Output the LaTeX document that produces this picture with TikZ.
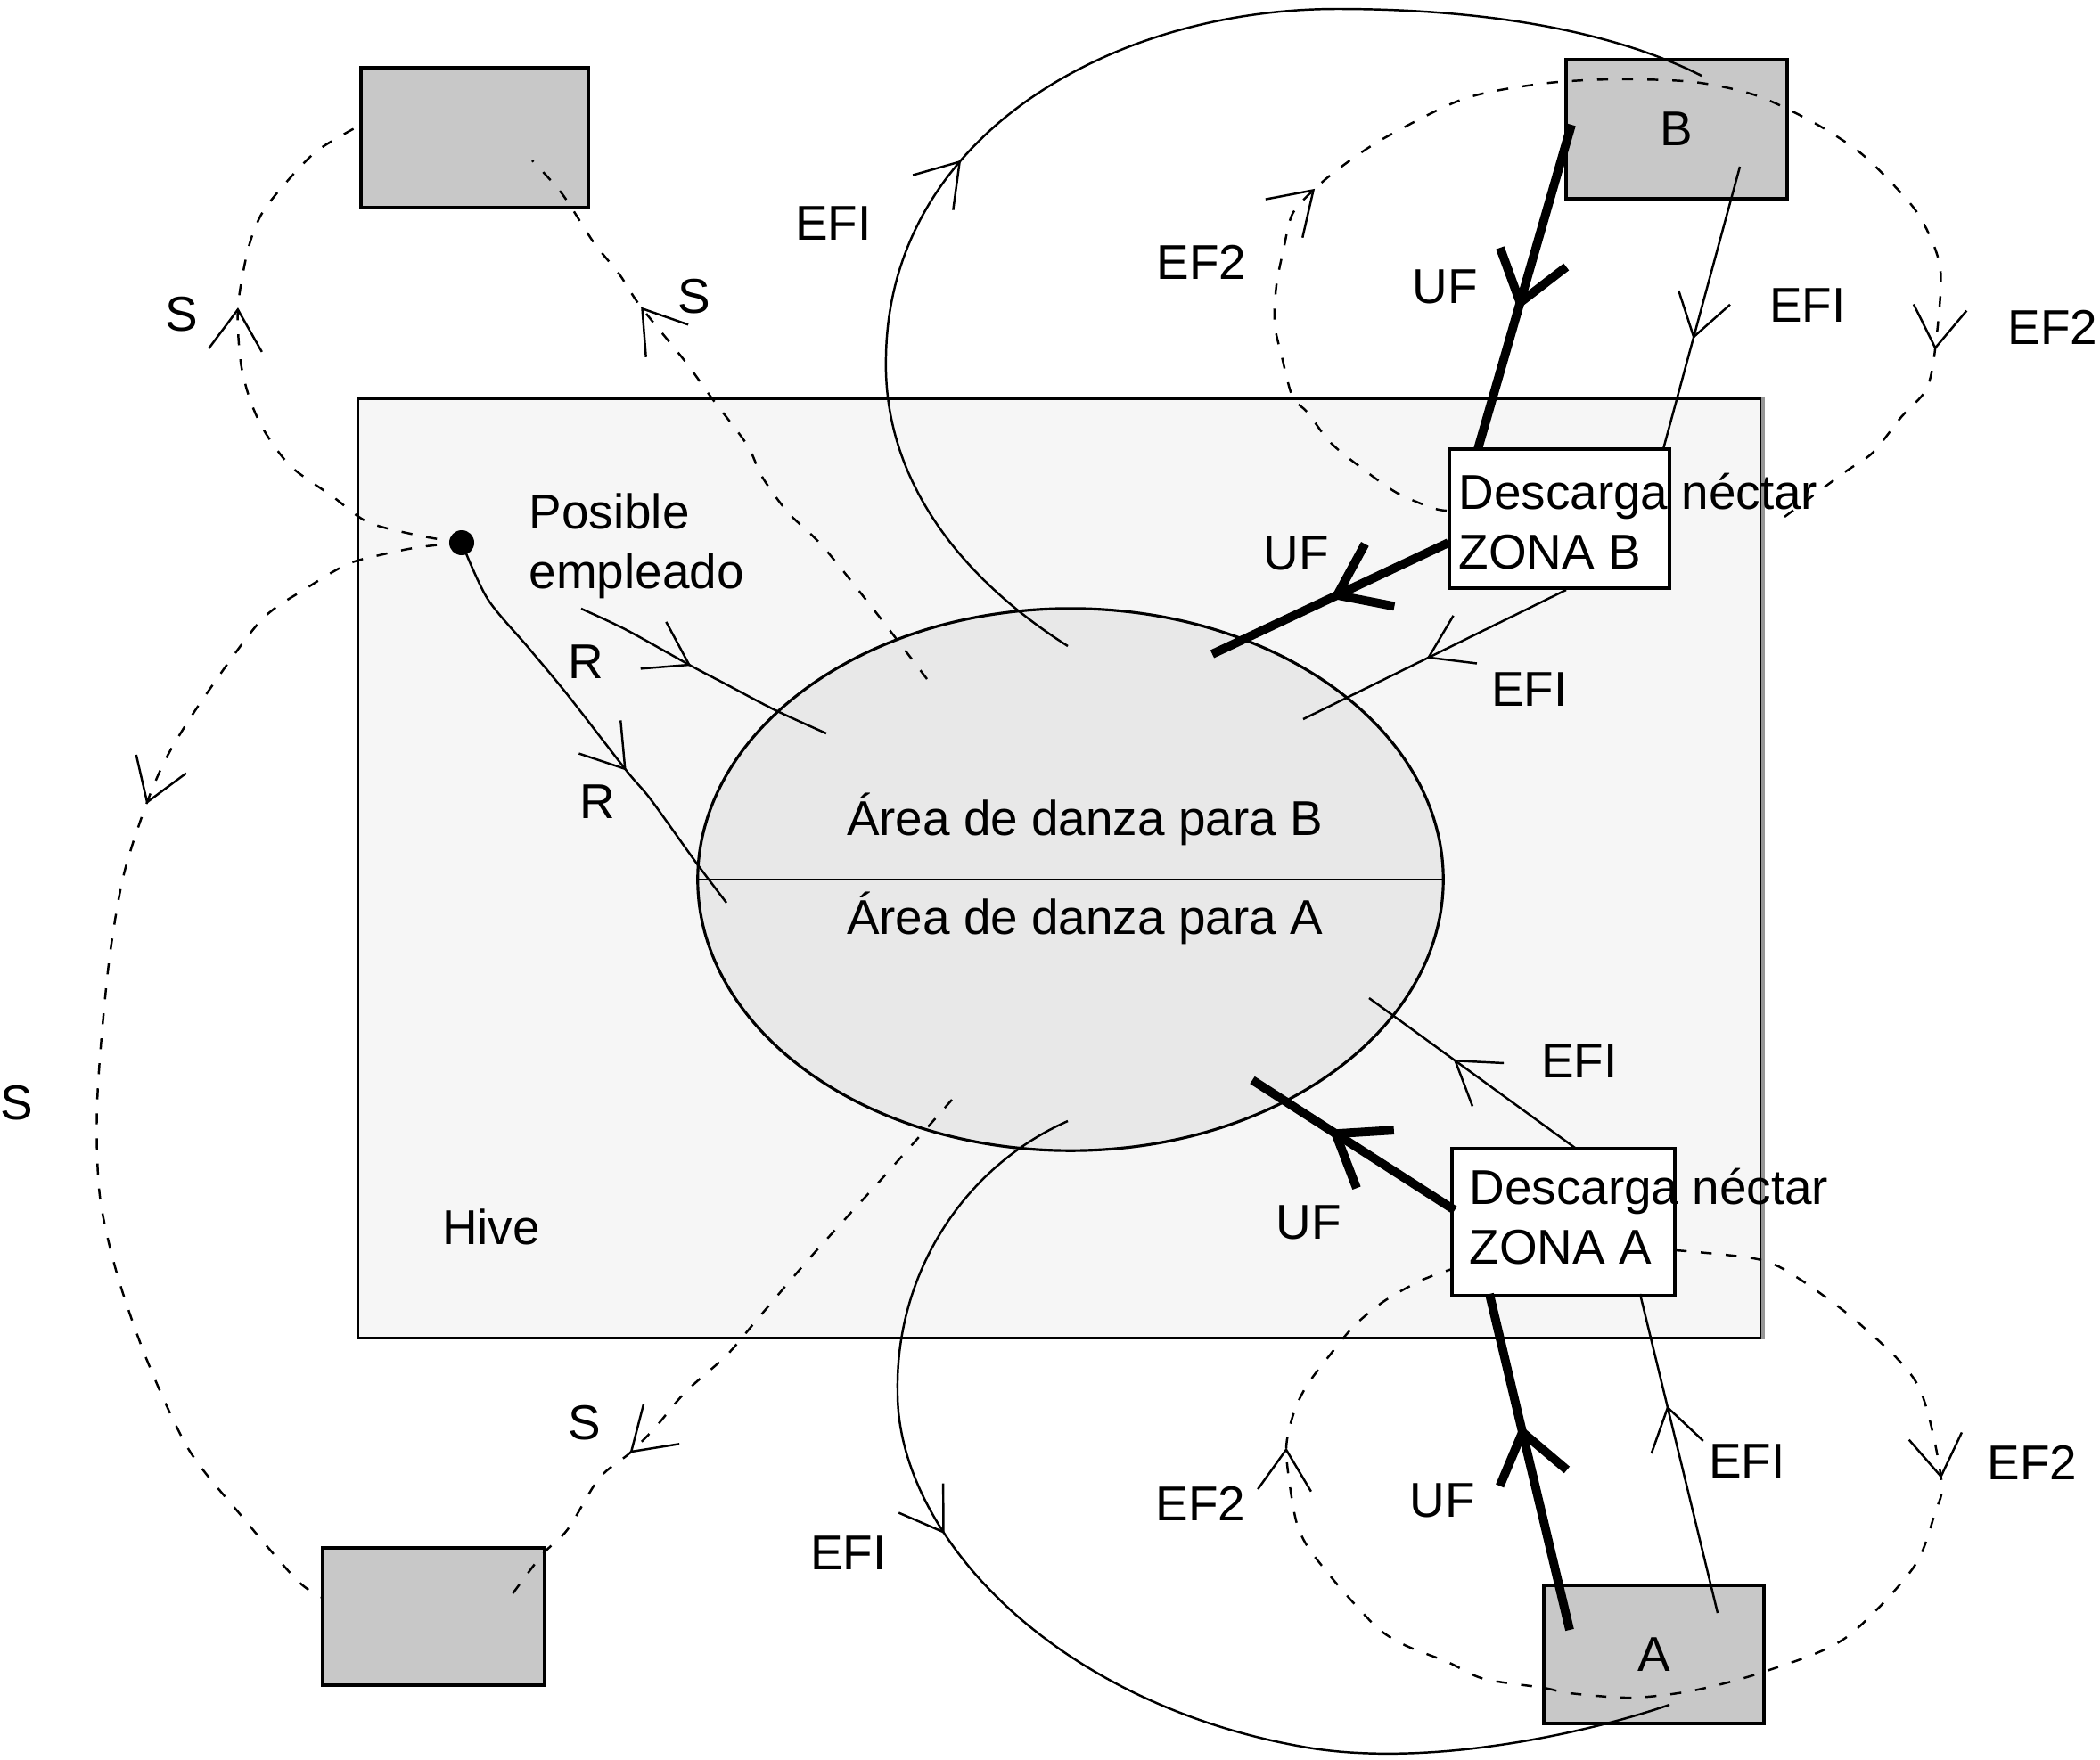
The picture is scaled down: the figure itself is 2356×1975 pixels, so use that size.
\documentclass[tikz,border=0pt]{standalone}
\usepackage{fontspec}
\setmainfont{Liberation Sans}
\usetikzlibrary{arrows.meta, decorations.markings, shapes.geometric}
\definecolor{HiveFill}{RGB}{246, 246, 246}
\definecolor{DanceFill}{RGB}{232, 232, 232}
\definecolor{SiteFill}{RGB}{200, 200, 200}
\definecolor{EdgeGray}{RGB}{150, 150, 150}

\begin{document}
\begin{tikzpicture}[
  x=0.01cm, y=-0.01cm,
  every node/.style={font=\fontsize{15.6}{19}\selectfont},
  site/.style={draw, line width=1.3pt, fill=SiteFill, inner sep=0pt},
  zone/.style={draw, line width=1.1pt, fill=white, inner sep=0pt},
  note/.style={inner sep=0pt, align=left, anchor=base west},
  flight/.style={line width=0.7pt},
  dashflight/.style={line width=0.7pt, dash pattern=on 3.5pt off 4.5pt},
  unload/.style={line width=2.8pt},
  midarrow/.style={postaction={decorate, decoration={markings,
      mark=at position #1 with {\arrow{Straight Barb[length=13pt, width=17pt]}}}}},
  bigarrow/.style={postaction={decorate, decoration={markings,
      mark=at position #1 with {\arrow{Straight Barb[length=15pt, width=22pt]}}}}}
]
  \useasboundingbox (0,0) rectangle (2356,1975);

  %% Hive and dance floor
  \node[draw, line width=0.9pt, fill=HiveFill, minimum width=15.74cm, minimum height=10.53cm,
        inner sep=0pt] (hive) at (1189,974.5) {};
  \draw[EdgeGray, line width=1pt] (hive.north east) -- (hive.south east);
  \node[ellipse, draw, line width=0.9pt, fill=DanceFill, minimum width=8.36cm,
        minimum height=6.08cm, inner sep=0pt] (dance) at (1201,987) {};
  \draw[line width=0.8pt] (dance.west) -- (dance.east);
  \node[anchor=base] (areaB) at (1217,937)  {Área de danza para B};
  \node[anchor=base] (areaA) at (1217,1048) {Área de danza para A};
  \node (hivelabel) at (551,1377) {Hive};
  \node[note] (recruitlabel) at (593,660) {Posible\\empleado};
  \node[circle, fill, inner sep=0pt, minimum size=0.28cm] (recruit) at (518,609) {};

  %% Food sites and unloading zones
  \node[site, minimum width=2.55cm, minimum height=1.57cm] (siteNW) at (532.5,154.5) {};
  \node[site, minimum width=2.49cm, minimum height=1.54cm] (siteSW) at (486.5,1814) {};
  \node[site, minimum width=2.48cm, minimum height=1.56cm] (siteB)  at (1881,145) {B};
  \node[site, minimum width=2.47cm, minimum height=1.55cm] (siteA)  at (1855.5,1856.5) {A};
  \node[zone, minimum width=2.47cm, minimum height=1.56cm] (zoneB) at (1749.5,582) {};
  \node[zone, minimum width=2.50cm, minimum height=1.65cm] (zoneA) at (1754,1371.5) {};
  \node[note] (zoneBtext) at (1636,638)  {Descarga néctar\\ZONA B};
  \node[note] (zoneAtext) at (1648,1418) {Descarga néctar\\ZONA A};

  %% Free ends of the flights
  \coordinate (nwIn)      at (405,140);
  \coordinate (nwOut)     at (597,180);
  \coordinate (swIn)      at (362,1793);
  \coordinate (swOut)     at (568,1798);
  \coordinate (scoutUp)   at (1040,762);
  \coordinate (scoutDown) at (1068,1234);
  \coordinate (recA)      at (815,1013);
  \coordinate (recBstart) at (652,683);
  \coordinate (recBend)   at (927,823);
  \coordinate (ufBout)    at (1763,140);
  \coordinate (ufBin)     at (1658,504);
  \coordinate (efiBout)   at (1952,187);
  \coordinate (efiBin)    at (1866,504);
  \coordinate (ufBdrop)   at (1625,609);
  \coordinate (ufBdance)  at (1360,734);
  \coordinate (efiBdrop)  at (1757,662);
  \coordinate (efiBdance) at (1462,807);
  \coordinate (efiBfrom)  at (1198,725);
  \coordinate (efiBsite)  at (1909,85);
  \coordinate (efBleft)   at (1623,573);
  \coordinate (efBright)  at (1994,586);
  \coordinate (ufAout)    at (1761,1829);
  \coordinate (ufAin)     at (1671,1452);
  \coordinate (efiAout)   at (1927,1810);
  \coordinate (efiAin)    at (1840,1452);
  \coordinate (ufAdrop)   at (1632,1358);
  \coordinate (ufAdance)  at (1405,1212);
  \coordinate (efiAdrop)  at (1767,1288);
  \coordinate (efiAdance) at (1536,1120);
  \coordinate (efiAfrom)  at (1198,1258);
  \coordinate (efiAsite)  at (1873,1913);
  \coordinate (efAright)  at (1880,1403);
  \coordinate (efAleft)   at (1629,1424);

  %% Scouts (S) and recruits (R)
  \draw[dashflight, midarrow=0.61] plot[smooth] coordinates {(recruit) (470,601) (413,586)
    (373,557) (327,524) (298,486) (281,450) (270,406) (267,345) (278,281) (293,241) (319,207)
    (356,169) (nwIn)};
  \draw[dashflight, midarrow=0.335] plot[smooth] coordinates {(recruit) (470,614) (430,622)
    (390,633) (344,660) (293,696) (230,781) (189,846) (164,903) (138,985) (121,1090)
    (109,1237) (112,1342) (132,1432) (166,1529) (212,1627) (270,1700) (333,1773) (swIn)};
  \draw[dashflight, midarrow=0.72] plot[smooth] coordinates {(scoutUp) (981,685) (923,613)
    (884,575) (855,535) (838,499) (798,446) (769,406) (718,343) (695,308) (666,272)
    (631,218) (nwOut)};
  \draw[dashflight, midarrow=0.71] plot[smooth] coordinates {(scoutDown) (990,1322)
    (910,1410) (850,1480) (815,1521) (769,1562) (735,1602) (706,1631) (672,1659)
    (637,1716) (608,1745) (swOut)};
  \draw[flight, midarrow=0.63] plot[smooth] coordinates {(recruit) (547,672) (593,727)
    (637,780) (703,865) (730,897) (781,968) (recA)};
  \draw[flight, midarrow=0.45] plot[smooth] coordinates {(recBstart) (703,707) (775,747)
    (813,767) (870,797) (recBend)};

  %% Site B
  \draw[flight, midarrow=0.42] (efiBfrom) .. controls (1080,650) and (990,540) .. (994,400)
    .. controls (998,150) and (1250,10) .. (1500,10)
    .. controls (1700,10) and (1830,45) .. (efiBsite);
  \draw[flight, midarrow=0.61] (efiBout) -- (efiBin);
  \draw[flight, midarrow=0.53] (efiBdrop) -- (efiBdance);
  \draw[unload, bigarrow=0.57] (ufBout) -- (ufBin);
  \draw[unload, bigarrow=0.50] (ufBdrop) -- (ufBdance);
  \draw[dashflight, midarrow=0.283, midarrow=0.836] plot[smooth] coordinates {(efBleft)
    (1607,570) (1567,553) (1530,527) (1493,497) (1467,463) (1450,445) (1438,400) (1430,363)
    (1432,320) (1440,280) (1450,240) (1475,212) (1505,187) (1553,155) (1642,111) (1729,94)
    (1811,89) (1900,92) (1970,107) (2032,136) (2084,169) (2122,205) (2155,245) (2177,303)
    (2171,392) (2161,437) (2133,468) (2101,508) (2068,531) (efBright)};

  %% Site A
  \draw[flight, midarrow=0.38] (efiAfrom) .. controls (1080,1310) and (1005,1430) .. (1007,1560)
    .. controls (1005,1720) and (1180,1910) .. (1461,1960)
    .. controls (1600,1985) and (1780,1945) .. (efiAsite);
  \draw[flight, midarrow=0.65] (efiAout) -- (efiAin);
  \draw[flight, midarrow=0.59] (efiAdrop) -- (efiAdance);
  \draw[unload, bigarrow=0.61] (ufAout) -- (ufAin);
  \draw[unload, bigarrow=0.62] (ufAdrop) -- (ufAdance);
  \draw[dashflight, midarrow=0.251, midarrow=0.833] plot[smooth] coordinates {(efAright)
    (1972,1413) (2017,1434) (2088,1487) (2152,1555) (2178,1660) (2171,1697) (2146,1760)
    (2069,1839) (1979,1876) (1900,1897) (1831,1905) (1761,1900) (1732,1894) (1665,1884)
    (1624,1865) (1578,1847) (1548,1829) (1517,1797) (1492,1768) (1466,1734) (1453,1702)
    (1443,1629) (1451,1587) (1466,1555) (1494,1518) (1520,1487) (1553,1460) (1594,1437)
    (efAleft)};

  %% Flight labels
  \node (sNWleft)  at (204,353)   {S};
  \node (sNWright) at (779,333)   {S};
  \node (sSWleft)  at (19,1238)   {S};
  \node (sSWright) at (656,1597)  {S};
  \node (rA)       at (657,743)   {R};
  \node (rB)       at (670,900)   {R};
  \node (efiBtop)  at (935,251)   {EFI};
  \node (ef2Bleft) at (1348,294)  {EF2};
  \node (ufBtop)   at (1621,322)  {UF};
  \node (efiBdown) at (2028,343)  {EFI};
  \node (ef2Bright) at (2303,367) {EF2};
  \node (ufBmid)   at (1454,621)  {UF};
  \node (efiBmid)  at (1716,774)  {EFI};
  \node (efiAmid)  at (1772,1191) {EFI};
  \node (ufAmid)   at (1468,1372) {UF};
  \node (ef2Aright) at (2280,1641) {EF2};
  \node (efiAup)   at (1960,1640) {EFI};
  \node (ufAlow)   at (1618,1684) {UF};
  \node (ef2Aleft) at (1347,1687) {EF2};
  \node (efiAlow)  at (952,1743)  {EFI};
\end{tikzpicture}
\end{document}
